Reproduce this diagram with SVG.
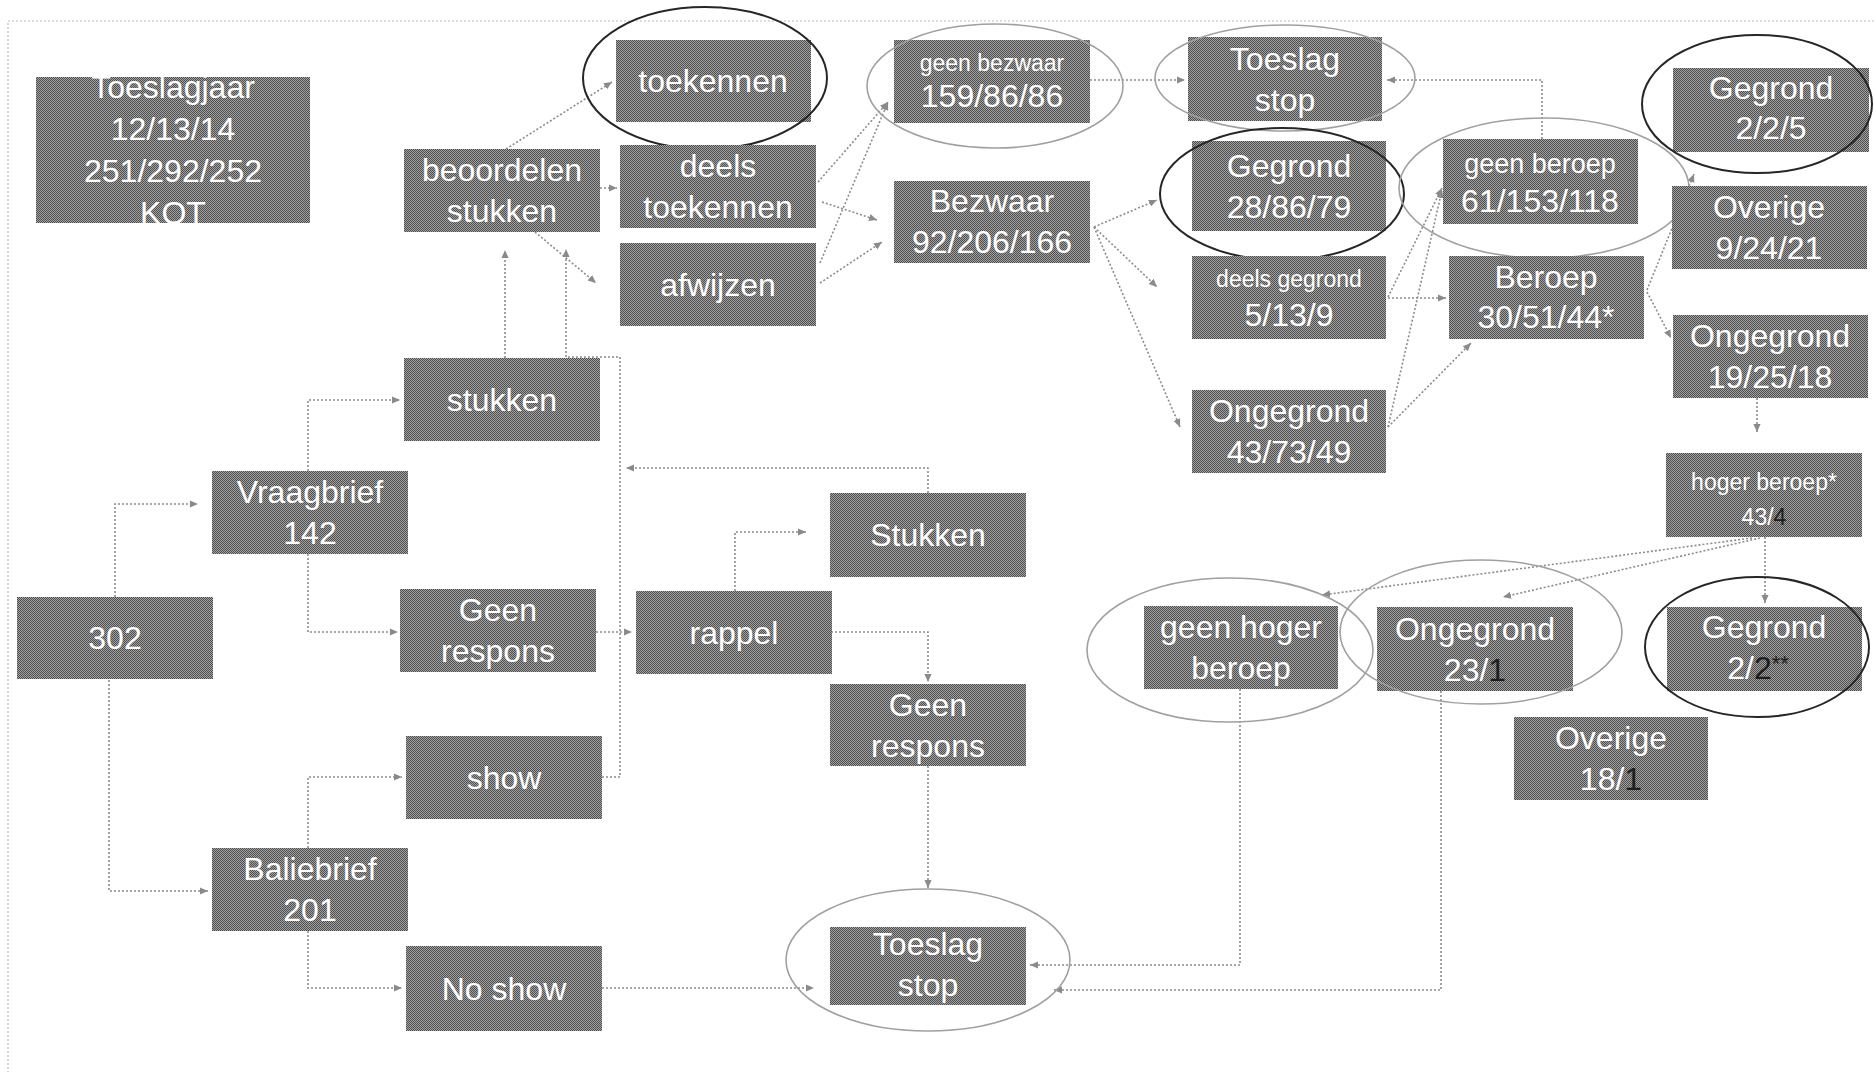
<svg xmlns="http://www.w3.org/2000/svg" width="1874" height="1072" viewBox="0 0 1874 1072">
<defs>
<pattern id="dith" width="2" height="2" patternUnits="userSpaceOnUse">
<rect width="2" height="2" fill="#a2a2a2"/>
<rect width="1" height="1" fill="#4e4e4e"/>
<rect x="1" y="1" width="1" height="1" fill="#4e4e4e"/>
</pattern>
<marker id="arr" viewBox="0 0 10 10" refX="9" refY="5" markerWidth="9" markerHeight="9" markerUnits="userSpaceOnUse" orient="auto">
<path d="M0,1 L9,5 L0,9 z" fill="#8a8a8a"/>
</marker>
<style>
.box{fill:url(#dith);}
.t{font-family:"Liberation Sans",Arial,sans-serif;font-size:32px;fill:#ffffff;text-anchor:middle;}
.s{font-size:23px;}
.m{font-size:27px;}
.dk{fill:#1e1e1e;}
.c{fill:none;stroke:#8c8c8c;stroke-width:1.6;stroke-dasharray:2 2;marker-end:url(#arr);}
.el{fill:none;stroke:#a0a0a0;stroke-width:1.6;}
.eld{fill:none;stroke:#262626;stroke-width:2;}
.pg{fill:none;stroke:#bdbdbd;stroke-width:1.2;stroke-dasharray:2 2;}
</style>
</defs>
<rect width="1874" height="1072" fill="#ffffff"/>
<path class="pg" d="M1874,21 L8,21 L8,1072"/>

<g id="connectors">
<path class="c" d="M115,597 L115,504 L198,504"/>
<path class="c" d="M109,680 L109,891 L208,891"/>
<path class="c" d="M308,471 L308,400 L400,400"/>
<path class="c" d="M308,554 L308,632 L398,632"/>
<path class="c" d="M308,848 L308,777 L402,777"/>
<path class="c" d="M308,931 L308,988 L402,988"/>
<path class="c" d="M505,358 L505,250"/>
<path class="c" d="M602,777 L620,777 L620,357 L566,357 L566,249"/>
<path class="c" d="M928,493 L928,468 L626,468"/>
<path class="c" d="M596,632 L632,632"/>
<path class="c" d="M735,591 L735,532 L806,532"/>
<path class="c" d="M831,632 L928,632 L928,682"/>
<path class="c" d="M928,766 L928,888"/>
<path class="c" d="M602,988 L814,988"/>
<path class="c" d="M1240,689 L1240,965 L1030,965"/>
<path class="c" d="M1441,691 L1441,990 L1054,990"/>
<path class="c" d="M506,149 L612,82"/>
<path class="c" d="M600,188 L617,188"/>
<path class="c" d="M535,232 L596,283"/>
<path class="c" d="M818,182 L888,102"/>
<path class="c" d="M820,263 L888,102"/>
<path class="c" d="M822,202 L877,220"/>
<path class="c" d="M820,283 L882,242"/>
<path class="c" d="M1090,80 L1185,80"/>
<path class="c" d="M1094,227 L1157,200"/>
<path class="c" d="M1094,227 L1157,287"/>
<path class="c" d="M1094,227 L1180,427"/>
<path class="c" d="M1542,139 L1542,80 L1387,80"/>
<path class="c" d="M1388,298 L1446,298"/>
<path class="c" d="M1388,297 L1442,188"/>
<path class="c" d="M1388,427 L1442,190"/>
<path class="c" d="M1388,427 L1471,343"/>
<path class="c" d="M1647,290 L1694,174"/>
<path class="c" d="M1647,292 L1671,338"/>
<path class="c" d="M1757,398 L1757,432"/>
<path class="c" d="M1765,537 L1765,603"/>
<path class="c" d="M1760,538 L1503,597"/>
<path class="c" d="M1752,538 L1322,595"/>
</g>

<g id="n_kot"><rect class="box" x="36" y="77" width="274" height="146"/>
<text class="t" x="173" y="98">Toeslagjaar</text><text class="t" x="173" y="140">12/13/14</text><text class="t" x="173" y="182">251/292/252</text><text class="t" x="173" y="224">KOT</text></g>

<g id="n_beoordelen"><rect class="box" x="404" y="149" width="196" height="83"/>
<text class="t" x="502" y="181">beoordelen</text><text class="t" x="502" y="222">stukken</text></g>

<g id="n_toekennen"><rect class="box" x="616" y="40" width="195" height="82"/>
<text class="t" x="713" y="92">toekennen</text>
<ellipse class="eld" cx="705" cy="78" rx="122" ry="71"/></g>

<g id="n_deelstoekennen"><rect class="box" x="620" y="145" width="196" height="83"/>
<text class="t" x="718" y="177">deels</text><text class="t" x="718" y="218">toekennen</text></g>

<g id="n_afwijzen"><rect class="box" x="620" y="243" width="196" height="83"/>
<text class="t" x="718" y="296">afwijzen</text></g>

<g id="n_geenbezwaar"><rect class="box" x="894" y="40" width="196" height="83"/>
<text class="t s" x="992" y="71">geen bezwaar</text><text class="t" x="992" y="107">159/86/86</text>
<ellipse class="el" cx="995" cy="86" rx="128" ry="62"/></g>

<g id="n_bezwaar"><rect class="box" x="894" y="181" width="196" height="82"/>
<text class="t" x="992" y="212">Bezwaar</text><text class="t" x="992" y="253">92/206/166</text></g>

<g id="n_toeslagstop1"><rect class="box" x="1188" y="37" width="194" height="84"/>
<text class="t" x="1285" y="70">Toeslag</text><text class="t" x="1285" y="111">stop</text>
<ellipse class="el" cx="1285" cy="78" rx="130" ry="53"/></g>

<g id="n_gegrond1"><rect class="box" x="1192" y="141" width="194" height="90"/>
<text class="t" x="1289" y="177">Gegrond</text><text class="t" x="1289" y="218">28/86/79</text>
<ellipse class="eld" cx="1282" cy="194" rx="122" ry="66"/></g>

<g id="n_deelsgegrond"><rect class="box" x="1192" y="256" width="194" height="83"/>
<text class="t s" x="1289" y="287">deels gegrond</text><text class="t" x="1289" y="326">5/13/9</text></g>

<g id="n_ongegrond1"><rect class="box" x="1192" y="390" width="194" height="83"/>
<text class="t" x="1289" y="422">Ongegrond</text><text class="t" x="1289" y="463">43/73/49</text></g>

<g id="n_geenberoep"><rect class="box" x="1443" y="139" width="195" height="85"/>
<text class="t m" x="1540" y="173">geen beroep</text><text class="t" x="1540" y="212">61/153/118</text>
<ellipse class="el" cx="1544" cy="188" rx="145" ry="70"/></g>

<g id="n_beroep"><rect class="box" x="1449" y="256" width="195" height="83"/>
<text class="t" x="1546" y="288">Beroep</text><text class="t" x="1546" y="328">30/51/44*</text></g>

<g id="n_gegrond2"><rect class="box" x="1673" y="68" width="196" height="84"/>
<text class="t" x="1771" y="99">Gegrond</text><text class="t" x="1771" y="139">2/2/5</text>
<ellipse class="eld" cx="1757" cy="104" rx="115" ry="69"/></g>

<g id="n_overige1"><rect class="box" x="1672" y="186" width="195" height="83"/>
<text class="t" x="1769" y="218">Overige</text><text class="t" x="1769" y="259">9/24/21</text></g>

<g id="n_ongegrond2"><rect class="box" x="1673" y="315" width="195" height="83"/>
<text class="t" x="1770" y="347">Ongegrond</text><text class="t" x="1770" y="388">19/25/18</text></g>

<g id="n_hogerberoep"><rect class="box" x="1666" y="453" width="196" height="84"/>
<text class="t s" x="1764" y="490">hoger beroep*</text><text class="t s" x="1764" y="525">43/<tspan class="dk">4</tspan></text></g>

<g id="n_gegrond3"><rect class="box" x="1667" y="607" width="195" height="84"/>
<text class="t" x="1764" y="638">Gegrond</text><text class="t" x="1758" y="679">2/<tspan class="dk">2</tspan><tspan class="dk" font-size="22" dy="-8">**</tspan></text>
<ellipse class="eld" cx="1757" cy="647" rx="112" ry="70"/></g>

<g id="n_ongegrond3"><rect class="box" x="1377" y="607" width="196" height="84"/>
<text class="t" x="1475" y="640">Ongegrond</text><text class="t" x="1475" y="681">23/<tspan class="dk">1</tspan></text>
<ellipse class="el" cx="1481" cy="632" rx="141" ry="72"/></g>

<g id="n_geenhogerberoep"><rect class="box" x="1144" y="606" width="194" height="83"/>
<text class="t" x="1241" y="638">geen hoger</text><text class="t" x="1241" y="679">beroep</text>
<ellipse class="el" cx="1230" cy="650" rx="143" ry="72"/></g>

<g id="n_overige2"><rect class="box" x="1514" y="717" width="194" height="83"/>
<text class="t" x="1611" y="749">Overige</text><text class="t" x="1611" y="790">18/<tspan class="dk">1</tspan></text></g>

<g id="n_302"><rect class="box" x="17" y="597" width="196" height="82"/>
<text class="t" x="115" y="649">302</text></g>

<g id="n_vraagbrief"><rect class="box" x="212" y="471" width="196" height="83"/>
<text class="t" x="310" y="503">Vraagbrief</text><text class="t" x="310" y="544">142</text></g>

<g id="n_stukken1"><rect class="box" x="404" y="358" width="196" height="83"/>
<text class="t" x="502" y="411">stukken</text></g>

<g id="n_geenrespons1"><rect class="box" x="400" y="589" width="196" height="83"/>
<text class="t" x="498" y="621">Geen</text><text class="t" x="498" y="662">respons</text></g>

<g id="n_rappel"><rect class="box" x="636" y="591" width="196" height="83"/>
<text class="t" x="734" y="644">rappel</text></g>

<g id="n_stukken2"><rect class="box" x="830" y="493" width="196" height="84"/>
<text class="t" x="928" y="546">Stukken</text></g>

<g id="n_geenrespons2"><rect class="box" x="830" y="684" width="196" height="82"/>
<text class="t" x="928" y="716">Geen</text><text class="t" x="928" y="757">respons</text></g>

<g id="n_show"><rect class="box" x="406" y="736" width="196" height="83"/>
<text class="t" x="504" y="789">show</text></g>

<g id="n_baliebrief"><rect class="box" x="212" y="848" width="196" height="83"/>
<text class="t" x="310" y="880">Baliebrief</text><text class="t" x="310" y="921">201</text></g>

<g id="n_noshow"><rect class="box" x="406" y="946" width="196" height="85"/>
<text class="t" x="504" y="1000">No show</text></g>

<g id="n_toeslagstop2"><rect class="box" x="830" y="927" width="196" height="78"/>
<text class="t" x="928" y="955">Toeslag</text><text class="t" x="928" y="996">stop</text>
<ellipse class="el" cx="928" cy="960" rx="142" ry="71"/></g>
</svg>
